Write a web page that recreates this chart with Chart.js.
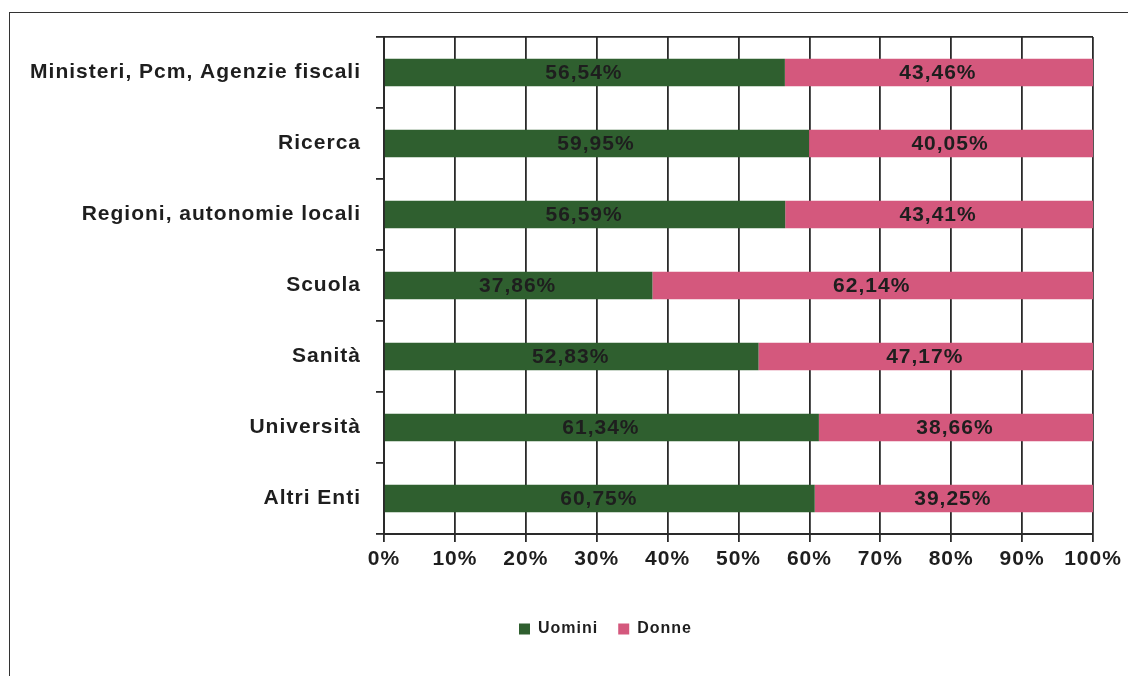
<!DOCTYPE html>
<html>
<head>
<meta charset="utf-8">
<script src="https://cdn.jsdelivr.net/npm/chart.js@4.4.1/dist/chart.umd.min.js"></script>
<style>
	html, body { margin: 0; padding: 0; background: #fff; }
	#wrap { position: relative; width: 1128px; height: 676px; overflow: hidden; }
	#frame { position: absolute; left: 9px; top: 12px; width: 1200px; height: 800px; border: 1.5px solid #333; }
	#hbar { position: absolute; left: 0; top: 0; }
</style>
</head>
<body>
<div id="wrap">
	<div id="frame"></div>
	<canvas id="hbar" width="1128" height="676"></canvas>
</div>
<script>
//
// Stacked bars chart
//

var categories = ['Ministeri, Pcm, Agenzie fiscali', 'Ricerca', 'Regioni, autonomie locali', 'Scuola', 'Sanità', 'Università', 'Altri Enti'];
var uomini = [56.54, 59.95, 56.59, 37.86, 52.83, 61.34, 60.75];
var donne = [43.46, 40.05, 43.41, 62.14, 47.17, 38.66, 39.25];
var tickLabels = ['0%', '10%', '20%', '30%', '40%', '50%', '60%', '70%', '80%', '90%', '100%'];

var ink = '#1e1e1e';
var font = 'Liberation Sans, Arial, sans-serif';

// Spaced-out lettering like the scanned original
var spacing = {
	id: 'spacing',
	beforeLayout: function(chart) { chart.ctx.letterSpacing = '1px'; },
	beforeDraw: function(chart) { chart.ctx.letterSpacing = '1px'; }
};

// Legend sits a bit right of the page centre in the original
var legendShift = {
	id: 'legendShift',
	afterLayout: function(chart) {
		chart.legend.left += 59;
		chart.legend.right += 59;
	}
};

// Values written in the middle of each segment
var barLabels = {
	id: 'barLabels',
	afterDatasetsDraw: function(chart) {
		var ctx = chart.ctx;
		ctx.save();
		ctx.font = 'bold 21px ' + font;
		ctx.fillStyle = ink;
		ctx.textAlign = 'center';
		ctx.textBaseline = 'middle';
		chart.data.datasets.forEach(function(ds, i) {
			chart.getDatasetMeta(i).data.forEach(function(bar, j) {
				var txt = ds.data[j].toFixed(2).replace('.', ',') + '%';
				ctx.fillText(txt, (bar.x + bar.base) / 2 - 1, bar.y + 1);
			});
		});
		ctx.restore();
	}
};

Chart.defaults.font.family = font;
Chart.defaults.font.weight = 'bold';
Chart.defaults.color = ink;

new Chart(document.getElementById('hbar'), {
	type: 'bar',
	data: {
		labels: categories,
		datasets: [{
			label: 'Uomini',
			data: uomini,
			backgroundColor: '#2f5f2f'
		}, {
			label: 'Donne',
			data: donne,
			backgroundColor: '#d4587d'
		}]
	},
	options: {
		indexAxis: 'y',
		responsive: false,
		animation: false,
		barPercentage: 0.39,
		categoryPercentage: 1,
		layout: { padding: { left: 0, top: 37, right: 35, bottom: 29 } },
		scales: {
			x: {
				stacked: true,
				min: 0,
				max: 100,
				afterFit: function(scale) { scale.height = 67; },
				afterBuildTicks: function(scale) {
					scale.ticks = tickLabels.map(function(t) { return { value: parseFloat(t) }; });
				},
				ticks: {
					padding: 5,
					font: { size: 21, weight: 'bold' },
					callback: function(v, i) { return tickLabels[i]; }
				},
				grid: { color: '#2a2a2a', lineWidth: 1.8, tickLength: 8 },
				border: { color: '#2a2a2a', width: 2 }
			},
			y: {
				stacked: true,
				afterFit: function(scale) { scale.width = 384; },
				ticks: { padding: 15, font: { size: 21, weight: 'bold' } },
				grid: {
					offset: true,
					color: function(c) { return c.index === 0 ? '#2a2a2a' : 'rgba(0,0,0,0)'; },
					tickColor: '#2a2a2a',
					lineWidth: 1.8,
					tickLength: 8
				},
				border: { color: '#2a2a2a', width: 2 }
			}
		},
		plugins: {
			legend: {
				position: 'bottom',
				labels: {
					boxWidth: 11,
					boxHeight: 11,
					padding: 20,
					font: { size: 16, weight: 'bold' }
				}
			},
			tooltip: { enabled: false }
		}
	},
	plugins: [spacing, legendShift, barLabels]
});
</script>
</body>
</html>
